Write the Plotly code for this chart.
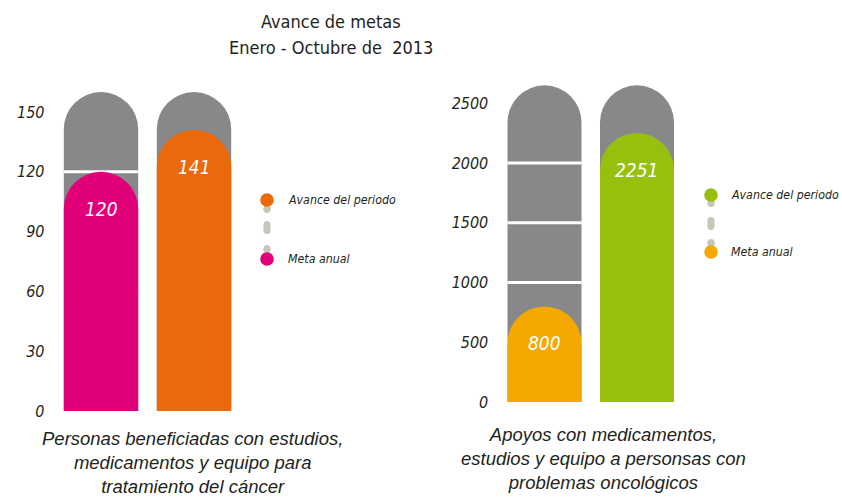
import plotly.graph_objects as go

# ---------------- data ----------------
title_lines = ["Avance de metas", "Enero - Octubre de  2013"]
series_names = ["Avance del periodo", "Meta anual"]

left_category = "Personas beneficiadas con estudios,<br>medicamentos y equipo para<br>tratamiento del cáncer"
left_meta = 120
left_avance = 141
left_capacity = 160
left_ticks = [0, 30, 60, 90, 120, 150]

right_category = "Apoyos con medicamentos,<br>estudios y equipo a personsas con<br>problemas oncológicos"
right_meta = 800
right_avance = 2251
right_capacity = 2650
right_ticks = [0, 500, 1000, 1500, 2000, 2500]

# ---------------- style ----------------
W, H = 842, 497
GRAY = "#87888a"
PILL = "#c8c5b9"
PINK = "#e2007a"
ORANGE = "#e9690c"
AMBER = "#f5a800"
GREEN = "#97bf0d"
TXT = "#231f20"
NARROW = "DejaVu Sans Condensed, Liberation Sans Narrow, Liberation Sans, sans-serif"
REG = "Liberation Sans, Arial, sans-serif"


def fx(p):
    return p / W


def fy(p):
    return 1 - p / H


fig = go.Figure()

panels = [
    dict(xa="x", ya="y", xo="x3", yo="y3", meta=left_meta, avance=left_avance,
         cap=left_capacity, ticks=left_ticks, cmeta=PINK, cav=ORANGE),
    dict(xa="x2", ya="y2", xo="x4", yo="y4", meta=right_meta, avance=right_avance,
         cap=right_capacity, ticks=right_ticks, cmeta=AMBER, cav=GREEN),
]

for p in panels:
    # gray capsules
    fig.add_trace(go.Bar(x=[0, 1], y=[p["cap"], p["cap"]], width=0.8,
                         marker=dict(color=GRAY, cornerradius="50%", line_width=0),
                         xaxis=p["xa"], yaxis=p["ya"], hoverinfo="skip", showlegend=False))
    # white grid gaps across the first capsule
    gx, gy = [], []
    for t in p["ticks"]:
        if 0 < t < p["ticks"][-1]:
            gx += [-0.4, 0.4, None]
            gy += [t, t, None]
    fig.add_trace(go.Scatter(x=gx, y=gy, mode="lines", line=dict(color="white", width=3),
                             xaxis=p["xa"], yaxis=p["ya"], hoverinfo="skip", showlegend=False))
    # coloured bars on overlay axes
    fig.add_trace(go.Bar(x=[0], y=[p["meta"]], width=0.8, name=series_names[1],
                         marker=dict(color=p["cmeta"], cornerradius="50%", line_width=0),
                         xaxis=p["xo"], yaxis=p["yo"], showlegend=False))
    fig.add_trace(go.Bar(x=[1], y=[p["avance"]], width=0.8, name=series_names[0],
                         marker=dict(color=p["cav"], cornerradius="50%", line_width=0),
                         xaxis=p["xo"], yaxis=p["yo"], showlegend=False))

annotations = []
for p in panels:
    for xv, val in [(0, p["meta"]), (1, p["avance"])]:
        annotations.append(dict(x=xv, y=val, xref=p["xa"], yref=p["ya"], text=str(val),
                                showarrow=False, yshift=-37, yanchor="middle",
                                font=dict(family=NARROW, size=19, color="white", style="italic")))

# title
for line, yc in zip(title_lines, [22, 48]):
    annotations.append(dict(x=fx(331), y=fy(yc), xref="paper", yref="paper", text=line,
                            showarrow=False, xanchor="center", yanchor="middle",
                            font=dict(family=NARROW, size=18, color=TXT)))
# category labels
annotations.append(dict(x=fx(192), y=fy(426), xref="paper", yref="paper", text=left_category,
                        showarrow=False, xanchor="center", yanchor="top",
                        font=dict(family=REG, size=18.5, color=TXT, style="italic")))
annotations.append(dict(x=fx(603), y=fy(422), xref="paper", yref="paper", text=right_category,
                        showarrow=False, xanchor="center", yanchor="top",
                        font=dict(family=REG, size=18.5, color=TXT, style="italic")))

shapes = []


def circle(cx, cy, r, color):
    shapes.append(dict(type="circle", xref="paper", yref="paper",
                       x0=fx(cx - r), x1=fx(cx + r), y0=fy(cy + r), y1=fy(cy - r),
                       fillcolor=color, line_width=0))


def pill(cx, y0, y1, w, color):
    r = w / 2
    shapes.append(dict(type="rect", xref="paper", yref="paper",
                       x0=fx(cx - r), x1=fx(cx + r), y0=fy(y1 - r), y1=fy(y0 + r),
                       fillcolor=color, line_width=0))
    circle(cx, y0 + r, r, color)
    circle(cx, y1 - r, r, color)


legends = [
    dict(cx=267, top=200, bot=259, pills=[(205, 213), (221, 234), (245, 253)], ctop=ORANGE, cbot=PINK, tx=286),
    dict(cx=711, top=195, bot=252, pills=[(199, 207), (217, 230), (239, 247)], ctop=GREEN, cbot=AMBER, tx=729),
]
for lg in legends:
    for a, b in lg["pills"]:
        pill(lg["cx"], a, b, 7, PILL)
    circle(lg["cx"], lg["top"], 6.8, lg["ctop"])
    circle(lg["cx"], lg["bot"], 6.8, lg["cbot"])
    annotations.append(dict(x=fx(lg["tx"]), y=fy(lg["top"]), xref="paper", yref="paper",
                            text=series_names[0], showarrow=False, xanchor="left", yanchor="middle",
                            font=dict(family=NARROW, size=12.3, color=TXT, style="italic")))
    annotations.append(dict(x=fx(lg["tx"]), y=fy(lg["bot"]), xref="paper", yref="paper",
                            text=series_names[1], showarrow=False, xanchor="left", yanchor="middle",
                            font=dict(family=NARROW, size=12.3, color=TXT, style="italic")))

# axis geometry
L0, LS, LTOP = 411, 1.993, 165
R0, RS, RTOP = 402, 0.1195, 2750
ydomL = [fy(L0), fy(L0 - LTOP * LS)]
ydomR = [fy(R0), fy(R0 - RTOP * RS)]
tickfont = dict(family=NARROW, size=16, color=TXT, style="italic")

fig.update_layout(
    width=W, height=H,
    margin=dict(l=0, r=0, t=0, b=0, pad=0),
    paper_bgcolor="white", plot_bgcolor="rgba(0,0,0,0)",
    barmode="overlay", showlegend=False,
    annotations=annotations, shapes=shapes,
    xaxis=dict(domain=[fx(54.5), fx(240.5)], range=[-0.5, 1.5], visible=False, anchor="y",
               automargin=False),
    yaxis=dict(domain=ydomL, range=[0, LTOP], tickvals=left_ticks, showgrid=False,
               zeroline=False, showline=False, tickfont=tickfont, ticklabelstandoff=9,
               anchor="x", automargin=False),
    xaxis3=dict(overlaying="x", range=[-0.5, 1.5], visible=False, anchor="y3", automargin=False),
    yaxis3=dict(overlaying="y", range=[0, LTOP], visible=False, anchor="x3", automargin=False),
    xaxis2=dict(domain=[fx(498.25), fx(683.25)], range=[-0.5, 1.5], visible=False, anchor="y2",
                automargin=False),
    yaxis2=dict(domain=ydomR, range=[0, RTOP], tickvals=right_ticks, showgrid=False,
                zeroline=False, showline=False, tickfont=tickfont, ticklabelstandoff=9,
                anchor="x2", automargin=False),
    xaxis4=dict(overlaying="x2", range=[-0.5, 1.5], visible=False, anchor="y4", automargin=False),
    yaxis4=dict(overlaying="y2", range=[0, RTOP], visible=False, anchor="x4", automargin=False),
)

fig.write_html(
    "out.html",
    config={"displayModeBar": False},
    post_script="document.body.style.margin='0';document.body.style.overflow='hidden';",
)
